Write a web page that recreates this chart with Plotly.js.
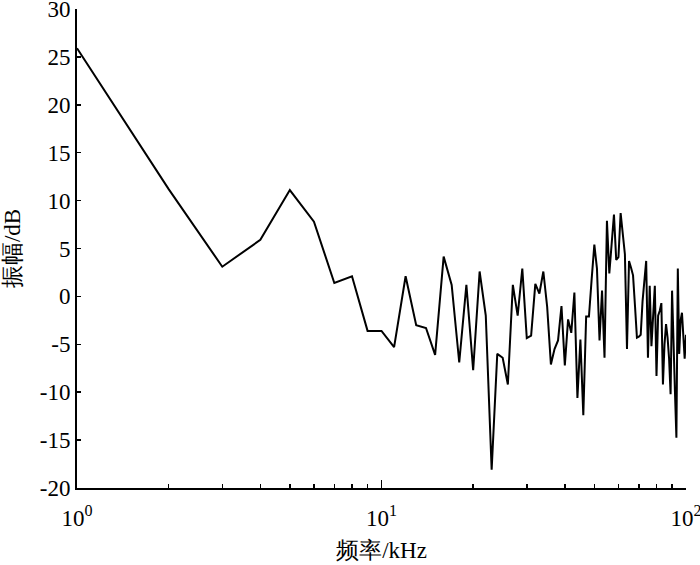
<!DOCTYPE html>
<html>
<head>
<meta charset="utf-8">
<script src="https://cdn.plot.ly/plotly-3.0.1.min.js"></script>
<style>html,body{margin:0;padding:0;background:#fff;}#chart{width:700px;height:565px;}</style>
</head>
<body>
<div id="chart"></div>
<script>
// Frequency (kHz) and amplitude (dB)
const freqKHz = [
  1,2,3,4,5,6,7,8,9,10,
  11,12,13,14,15,16,17,18,19,20,
  21,22,23,24,25,26,27,28,29,30,
  31,32,33,34,35,36,37,38,39,40,
  41,42,43,44,45,46,47,48,49,50,
  51,52,53,54,55,56,57,58,59,60,
  61,62,63,64,65,66,67,68,69,70,
  71,72,73,74,75,76,77,78,79,80,
  81,82,83,84,85,86,87,88,89,90,
  91,92,93,94,95,96,97,98,99,100
];
const amplitudeDB = [
  25.9,11.2,3.1,5.9,11.1,7.8,1.4,2.1,-3.6,-3.6,
  -5.3,2.1,-3.0,-3.3,-6.1,4.15,1.2,-6.9,1.2,-7.7,
  2.6,-2.0,-18.1,-6.0,-6.4,-9.2,1.2,-2.0,2.9,-4.35,
  -4.1,1.3,0.3,2.6,-1.1,-7.1,-5.5,-4.6,-1.0,-7.2,
  -2.4,-3.8,0.4,-10.6,-4.5,-12.4,-2.1,-2.1,1.8,5.4,
  2.9,-4.6,0.6,-6.4,7.9,2.4,5.5,8.55,3.8,4.1,
  8.7,6.5,4.4,-5.5,3.7,3.0,2.2,-1.0,-4.3,-4.2,
  -4.0,-0.5,2.0,3.7,-6.4,1.1,-5.2,-2.0,1.1,-8.3,
  -2.0,-1.5,-0.7,-9.2,-5.0,-2.9,-4.3,-6.5,-10.2,0.6,
  -6.0,-10.0,-14.75,2.9,-6.0,-2.5,-1.7,-3.6,-6.5,-4.0
];
const xMajorTicks = [1, 10, 100];
const xMajorLabels = ['10<sup>0</sup>', '10<sup>1</sup>', '10<sup>2</sup>'];
const xMinorTicks = [2,3,4,5,6,7,8,9,20,30,40,50,60,70,80,90];
const yTicks = [-20,-15,-10,-5,0,5,10,15,20,25,30];
const yTickLabels = ['-20','-15','-10','-5','0','5','10','15','20','25','30'];

const fontFam = 'Liberation Serif, serif';

const trace = {
  x: freqKHz,
  y: amplitudeDB,
  type: 'scatter',
  mode: 'lines',
  line: {color: '#000000', width: 2},
  hoverinfo: 'x+y'
};

const layout = {
  width: 700,
  height: 565,
  margin: {l: 77, r: 14, t: 9, b: 77},
  paper_bgcolor: '#ffffff',
  plot_bgcolor: '#ffffff',
  showlegend: false,
  font: {family: fontFam, size: 23, color: '#000000'},
  xaxis: {
    type: 'log',
    range: [0, 2],
    showline: true,
    linecolor: '#000000',
    linewidth: 2,
    showgrid: false,
    zeroline: false,
    ticks: 'inside',
    ticklen: 8,
    tickwidth: 1.5,
    tickcolor: '#000000',
    tickmode: 'array',
    tickvals: xMajorTicks,
    ticktext: xMajorLabels,
    tickfont: {family: fontFam, size: 23, color: '#000000'},
    ticklabeloverflow: 'allow',
    ticklabelstandoff: 8,
    minor: {
      tickmode: 'array',
      tickvals: xMinorTicks,
      ticks: 'inside',
      ticklen: 4,
      tickwidth: 1.5,
      tickcolor: '#000000',
      showgrid: false
    },
    title: {text: '频率/kHz', font: {family: fontFam, size: 23, color: '#000000'}, standoff: 12}
  },
  yaxis: {
    range: [-20, 30],
    showline: true,
    linecolor: '#000000',
    linewidth: 2,
    showgrid: false,
    zeroline: false,
    ticks: 'inside',
    ticklen: 4,
    tickwidth: 1.5,
    tickcolor: '#000000',
    tickmode: 'array',
    tickvals: yTicks,
    ticktext: yTickLabels,
    tickfont: {family: fontFam, size: 23, color: '#000000'},
    ticklabeloverflow: 'allow',
    title: {text: '振幅/dB', font: {family: fontFam, size: 23, color: '#000000'}, standoff: 14}
  }
};

Plotly.newPlot('chart', [trace], layout, {displayModeBar: false, staticPlot: true});
</script>
</body>
</html>
